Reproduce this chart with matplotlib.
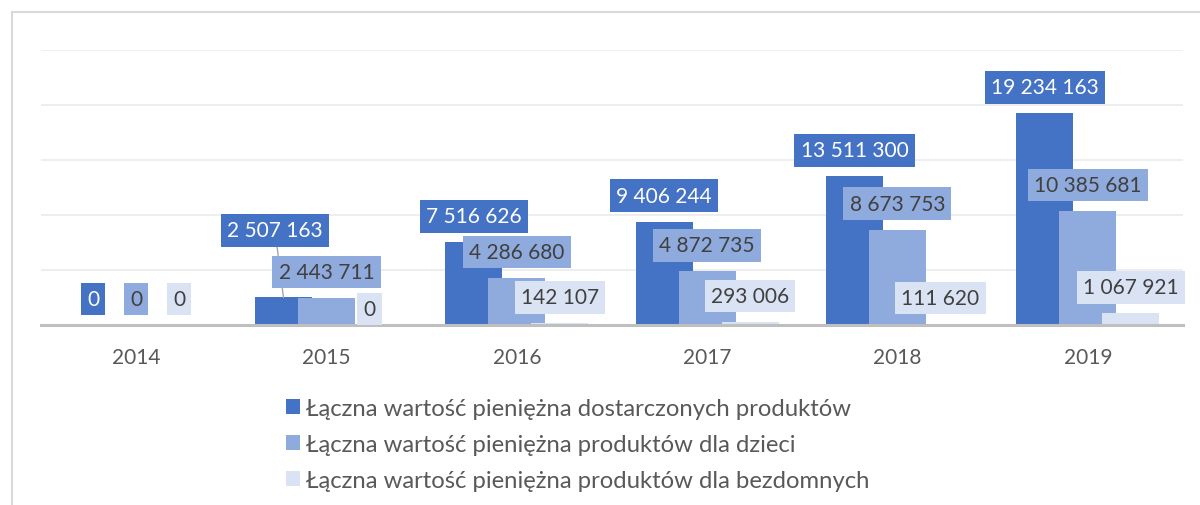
import matplotlib
matplotlib.use("Agg")
import matplotlib.pyplot as plt
from matplotlib.patches import Patch
from matplotlib.lines import Line2D
import numpy as np

plt.rcParams['font.family'] = ['Lato', 'DejaVu Sans']

# Data
years = ['2014', '2015', '2016', '2017', '2018', '2019']
dostarczone = [0, 2507163, 7516626, 9406244, 13511300, 19234163]
dla_dzieci = [0, 2443711, 4286680, 4872735, 8673753, 10385681]
dla_bezdomnych = [0, 0, 142107, 293006, 111620, 1067921]
series_names = [
    'Łączna wartość pieniężna dostarczonych produktów',
    'Łączna wartość pieniężna produktów dla dzieci',
    'Łączna wartość pieniężna produktów dla bezdomnych',
]

colors = ['#4472C4', '#8FAADC', '#DAE3F3']
text_colors = ['white', '#404040', '#404040']
grey = '#595959'

fig = plt.figure(figsize=(12, 5.06), dpi=100)
ax = fig.add_axes([41 / 1200, 180 / 506, 1142 / 1200, 275 / 506])

x = np.arange(len(years))
width = 0.30
step = 0.226
all_series = [dostarczone, dla_dzieci, dla_bezdomnych]

for k, vals in enumerate(all_series):
    ax.bar(x + (k - 1) * step, vals, width, color=colors[k], zorder=2 + k)

# label offsets in points (default ~26 px above bar top)
default_off = (0, 18.7)
special_off = {(0, 1): (-6.1, 48.2), (2, 1): (0, 11.5)}

for k, vals in enumerate(all_series):
    for i, v in enumerate(vals):
        xc = x[i] + (k - 1) * step
        off = special_off.get((k, i), default_off)
        arrow = None
        if (k, i) == (0, 1):
            arrow = dict(arrowstyle='-', color='#A6A6A6', lw=1, shrinkA=0, shrinkB=0)
        ax.annotate(f"{v:,}".replace(',', ' '), (xc, v), xytext=off,
                    textcoords='offset points', ha='center', va='center',
                    fontsize=15, color=text_colors[k], zorder=10,
                    bbox=dict(boxstyle='square,pad=0.3', fc=colors[k], ec='none'),
                    arrowprops=arrow)

ax.set_xlim(-0.5, 5.5)
ax.set_ylim(0, 25e6)
ax.set_yticks(np.arange(0, 25e6 + 1, 5e6))
ax.yaxis.grid(True, color='#EBEBEB', lw=1.2, zorder=0)
ax.set_axisbelow(True)
ax.set_yticklabels([])
ax.tick_params(axis='y', length=0)
ax.set_xticks(x)
ax.set_xticklabels(years, fontsize=15, color=grey)
ax.tick_params(axis='x', length=0, pad=16)
for s in ['top', 'right', 'left']:
    ax.spines[s].set_visible(False)
ax.spines['bottom'].set_color('#BFBFBF')
ax.spines['bottom'].set_linewidth(2.2)
ax.spines['bottom'].set_zorder(6)

handles = [Patch(facecolor=c, edgecolor='none') for c in colors]
fig.legend(handles, series_names, loc='upper left',
           bbox_to_anchor=(286 / 1200, 1 - 399 / 506), frameon=False,
           fontsize=17.2, labelcolor=grey, handlelength=0.58, handleheight=0.58,
           handletextpad=0.25, labelspacing=0.62, borderpad=0, borderaxespad=0)

# chart border (left and top)
fig.add_artist(Line2D([11.5 / 1200, 11.5 / 1200], [0, 1 - 12.5 / 506],
                      transform=fig.transFigure, color='#D9D9D9', lw=1.5))
fig.add_artist(Line2D([11.5 / 1200, 1], [1 - 12.5 / 506, 1 - 12.5 / 506],
                      transform=fig.transFigure, color='#D9D9D9', lw=1.5))

fig.savefig('out.png', dpi=100)
